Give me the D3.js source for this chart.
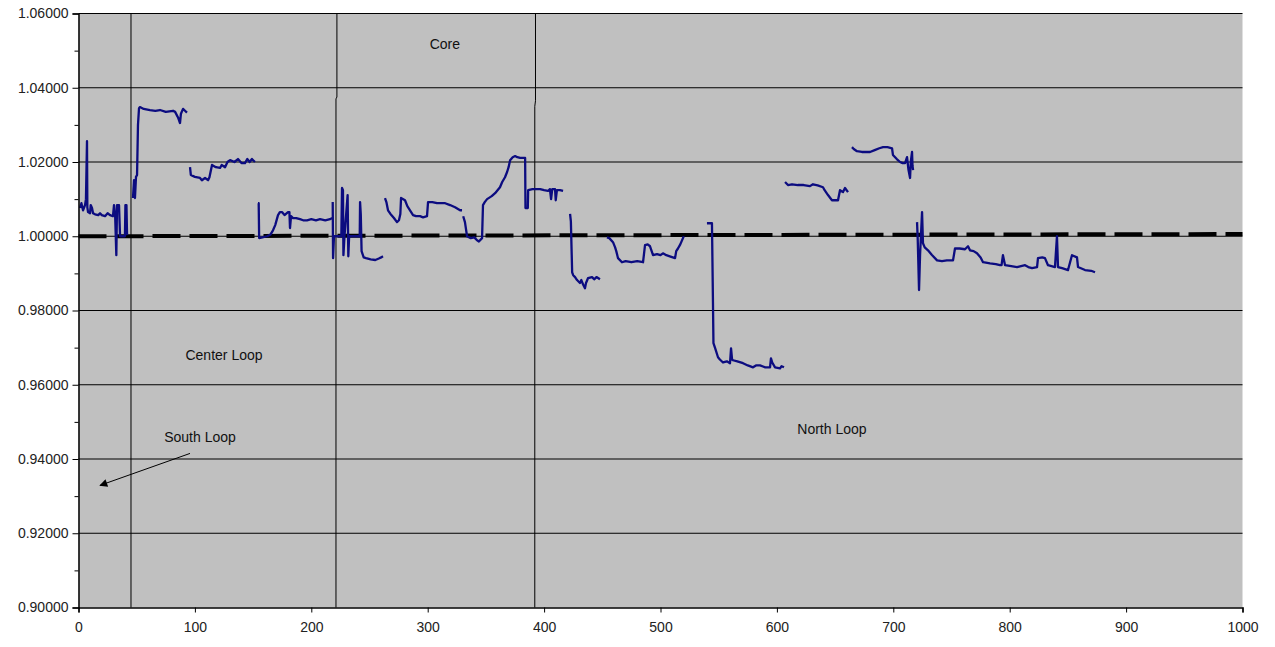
<!DOCTYPE html>
<html>
<head>
<meta charset="utf-8">
<script src="https://cdn.jsdelivr.net/npm/d3@7"></script>
<style>
    body { margin: 0; background: #fff; }
    text { font-family: "Liberation Sans", Arial, sans-serif; }
</style>
</head>
<body>
<svg id="chart"></svg>
<script>
// loop segments, [x, ratio]
const southLoop = [[1.3,1.0076],[2.5,1.0089],[3.9,1.0070],[5.6,1.0084],[6.4,1.0100],[7.3,1.0256],[7.6,1.0078],[8.2,1.0065],[9.9,1.0062],[10.5,1.0084],[11.6,1.0076],[12.5,1.0062],[14.2,1.0059],[17,1.0057],[18.5,1.0062],[20,1.0057],[22.8,1.0054],[25,1.0062],[27.1,1.0057],[29.6,1.0054],[30.5,1.0084],[31.5,1.0054],[32.5,0.9949],[33.1,1.0084],[34.8,1.0084],[35.7,1.0000],[39.9,1.0000],[40.3,1.0084],[41.2,1.0084],[41.7,1.0003]];

const centerA = [[46.8,1.0103],[47.7,1.0151],[48.5,1.0103],[49.4,1.0160],[50.3,1.0165],[51.1,1.0300],[52.0,1.0345],[52.8,1.0348],[56,1.0343],[61.4,1.0340],[66,1.0338],[70,1.0340],[75,1.0335],[81.2,1.0338],[83,1.0335],[85.5,1.0320],[87.2,1.0305],[88,1.0330],[89.8,1.0343],[91.5,1.0338],[93.2,1.0333]];
const centerB = [[95.8,1.0186],[96.5,1.0165],[100,1.0160],[104.4,1.0157],[106,1.0151],[108.7,1.0157],[111.3,1.0151],[112.5,1.0159],[114.7,1.0192],[118,1.0186],[121.6,1.0184],[123,1.0192],[125.9,1.0186],[128,1.0200],[130.2,1.0205],[134,1.0200],[137,1.0208],[140,1.0197],[143,1.0197],[145,1.0208],[147,1.0200],[149,1.0208],[151.6,1.0200]];
const centerC = [[154.2,1.0089],[154.8,1.0089],[155.2,0.9995],[158,0.9997],[162,1.0000],[165,1.0005],[167.1,1.0016],[169,1.0030],[171.4,1.0057],[173,1.0065],[174.8,1.0065],[177,1.0057],[180,1.0065],[181.2,1.0065],[181.7,1.0022],[182.6,1.0054],[184.3,1.0049],[187,1.0049],[190.3,1.0046],[193,1.0043],[196.3,1.0043],[200,1.0046],[204,1.0043],[207.5,1.0046],[212,1.0043],[216.1,1.0046],[217.9,1.0049]];

const coreA = [[218.4,1.0092],[218.7,0.9941],[219.5,1.0000],[225.8,1.0000],[226.4,1.0130],[227.2,1.0124],[227.6,0.9949],[228.5,1.0000],[231.2,1.0111],[231.8,0.9946],[232.5,1.0000],[241.6,1.0000],[241.9,1.0092],[242.5,1.0060],[243.2,0.9960],[245,0.9943],[247,0.9941],[251,0.9938],[255,0.9936],[258,0.9940],[260,0.9943],[261.6,0.9946]];
const coreB = [[263.3,1.0103],[264.5,1.0092],[265.9,1.0070],[268,1.0060],[271,1.0049],[273.6,1.0038],[275.3,1.0043],[276.5,1.0060],[277.1,1.0103],[280.5,1.0097],[282.5,1.0081],[284.8,1.0070],[287.4,1.0057],[290,1.0054],[293.4,1.0054],[296,1.0051],[299.4,1.0054],[300.3,1.0092],[304,1.0092],[308,1.0089],[310.6,1.0089],[315,1.0089],[319.2,1.0084],[323.5,1.0078],[327.8,1.0070],[329.5,1.0070]];
const coreC = [[330.5,1.0054],[332,1.0038],[333.8,1.0000],[337,0.9995],[340,0.9997],[342.4,0.9989],[344,0.9986],[346.7,0.9995],[347.5,1.0084],[349,1.0092],[351,1.0100],[355,1.0108],[357.9,1.0116],[360,1.0124],[362.1,1.0132],[364,1.0146],[366.4,1.0159],[368.2,1.0173],[369.5,1.0186],[370.8,1.0205],[373,1.0213],[375.1,1.0216],[377,1.0213],[379.4,1.0211],[383.7,1.0211],[384,1.0076],[386,1.0076],[386.3,1.0124],[390,1.0127],[396.6,1.0127],[400,1.0124],[403.4,1.0122],[405,1.0127],[406,1.0100],[407,1.0127],[409.4,1.0127],[410,1.0097],[411,1.0124],[413.7,1.0124],[416.3,1.0122]];

const northA = [[422.3,1.0060],[423,1.0040],[424.1,0.9903],[425,0.9895],[426.6,0.9890],[428.3,0.9882],[430.8,0.9874],[432,0.9882],[433.5,0.9870],[435.1,0.9860],[436,0.9874],[437.7,0.9887],[441.2,0.9890],[443,0.9884],[445,0.9890],[448,0.9884]];
const northB = [[454.0,0.9997],[456,0.9995],[459.2,0.9984],[461,0.9970],[462,0.9960],[463.5,0.9941],[466.9,0.9930],[470,0.9933],[475,0.9930],[480,0.9933],[485,0.9930],[486.7,0.9976],[489,0.9978],[491,0.9973],[493.6,0.9949],[497,0.9952],[500,0.9949],[502.1,0.9954],[505,0.9949],[508,0.9946],[512.5,0.9941],[513.5,0.9960],[515,0.9967],[517,0.9978],[519.3,0.9995],[520,1.0000]];
const northC = [[539.9,1.0035],[544.2,1.0035],[544.4,0.9990],[545.1,0.9814],[545.5,0.9712],[547,0.9698],[549.4,0.9674],[551,0.9668],[553.7,0.9660],[557,0.9663],[559.7,0.9658],[560.6,0.9698],[561.5,0.9668],[562.3,0.9666],[566,0.9663],[570.9,0.9658],[575,0.9652],[579.5,0.9647],[582,0.9652],[585.5,0.9652],[590,0.9647],[594.1,0.9647],[594.9,0.9671],[596,0.9660],[598.4,0.9647],[602.7,0.9644],[604,0.9650],[606.1,0.9647]];
const northD = [[607.0,1.0146],[609.5,1.0138],[613,1.0140],[618,1.0138],[623,1.0138],[628.4,1.0135],[631.0,1.0140],[635,1.0137],[639.6,1.0132],[641,1.0124],[643.9,1.0111],[647.3,1.0097],[652.5,1.0097],[654.2,1.0124],[656.8,1.0119],[658.5,1.0130],[661.1,1.0119]];
const northE = [[664.5,1.0240],[666,1.0235],[668.8,1.0229],[673,1.0227],[680.0,1.0227],[684,1.0232],[688,1.0237],[691.2,1.0240],[695,1.0240],[698.9,1.0237],[699.7,1.0219],[703,1.0208],[705.8,1.0200],[708,1.0197],[710.1,1.0197],[711.8,1.0213],[713,1.0180],[714.4,1.0157],[715,1.0200],[716.1,1.0227],[716.5,1.0190],[717,1.0178]];
const northF = [[720.4,1.0038],[721.0,0.9990],[722.1,0.9855],[723,0.9950],[724.7,1.0065],[725.5,0.9981],[727,0.9970],[729.8,0.9962],[733,0.9950],[737.6,0.9935],[741.8,0.9933],[746,0.9935],[751.3,0.9935],[753.0,0.9967],[757,0.9967],[761.6,0.9965],[764.2,0.9973],[765.9,0.9962],[769,0.9960],[771.9,0.9954],[775,0.9943],[777.1,0.9930],[783.1,0.9927],[788,0.9925],[791.7,0.9922],[793,0.9922],[794.2,0.9949],[796.0,0.9922],[800,0.9920],[806.3,0.9917],[813.2,0.9922],[816,0.9917],[819.2,0.9914],[823.5,0.9917],[824.3,0.9941],[828,0.9943],[830.3,0.9941],[832.9,0.9922],[838.9,0.9917],[840.6,1.0000],[841.5,0.9917],[845,0.9914],[850.1,0.9909],[853.5,0.9949],[857.8,0.9943],[858.7,0.9917],[864.7,0.9909],[870,0.9907],[873.3,0.9903]];

const segments = [southLoop, centerA, centerB, centerC, coreA, coreB, coreC,
    northA, northB, northC, northD, northE, northF];

// zone boundaries
const boundaries = [
    [[45.1,1.06],[45.1,0.90]],
    [[222.0,1.06],[222.0,1.0375],[221.2,1.0370],[221.2,0.90]],
    [[392.6,1.06],[392.6,1.0365],[392.0,1.0350],[392.0,0.90]]
];

const reference = [[0,1.0],[1000,1.0006]];

const zoneLabels = [
    {text: "Core", x: 314.7, y: 1.0515},
    {text: "Center Loop", x: 125, y: 0.9677},
    {text: "South Loop", x: 104.4, y: 0.9456},
    {text: "North Loop", x: 647.3, y: 0.9478}
];
const arrowFrom = [95.8, 0.9415];
const arrowTo = [18.5, 0.9329];

const yTicks = [0.90, 0.92, 0.94, 0.96, 0.98, 1.00, 1.02, 1.04, 1.06];
const yMinor = [0.91, 0.93, 0.95, 0.97, 0.99, 1.01, 1.03, 1.05];
const xTicks = [0, 100, 200, 300, 400, 500, 600, 700, 800, 900, 1000];

const W = 1275, H = 647;
const margin = {top: 13.5, right: 32.5, bottom: 39.5, left: 78.5},
    width = W - margin.left - margin.right,
    height = H - margin.top - margin.bottom;

const x = d3.scaleLinear().domain([0, 1000]).range([0, width]);
const y = d3.scaleLinear().domain([0.90, 1.06]).range([height, 0]);

const svg = d3.select('#chart')
    .attr('width', W)
    .attr('height', H);

svg.append('defs').append('marker')
    .attr('id', 'arrow')
    .attr('viewBox', '0 0 10 10')
    .attr('refX', 9).attr('refY', 5)
    .attr('markerWidth', 10).attr('markerHeight', 8)
    .attr('markerUnits', 'userSpaceOnUse')
    .attr('orient', 'auto')
    .append('path')
    .attr('d', 'M0,0 L10,5 L0,10 Z')
    .attr('fill', '#000');

const g = svg.append('g')
    .attr('transform', 'translate(' + margin.left + ',' + margin.top + ')');

g.append('rect')
    .attr('width', width)
    .attr('height', height)
    .attr('fill', '#c0c0c0');

// horizontal gridlines
g.selectAll('.grid').data(yTicks.slice(1))
    .enter().append('line')
    .attr('x1', 0).attr('x2', width)
    .attr('y1', function(d) { return y(d); })
    .attr('y2', function(d) { return y(d); })
    .attr('stroke', '#000')
    .attr('stroke-width', 1);

const line = d3.line()
    .x(function(d) { return x(d[0]); })
    .y(function(d) { return y(d[1]); });

g.selectAll('.zone').data(boundaries)
    .enter().append('path')
    .attr('d', line)
    .attr('fill', 'none')
    .attr('stroke', '#000')
    .attr('stroke-width', 1);

g.append('path')
    .attr('d', line(reference))
    .attr('fill', 'none')
    .attr('stroke', '#000')
    .attr('stroke-width', 4)
    .attr('stroke-dasharray', '28,9');

g.selectAll('.seg').data(segments)
    .enter().append('path')
    .attr('d', line)
    .attr('fill', 'none')
    .attr('stroke', '#0c0c80')
    .attr('stroke-width', 2.3)
    .attr('stroke-linejoin', 'round');

// axes
const yAxis = d3.axisLeft(y)
    .tickValues(yTicks)
    .tickSize(6)
    .tickPadding(4)
    .tickFormat(d3.format('.5f'));
const yAxisG = g.append('g').call(yAxis);

g.append('g').call(d3.axisLeft(y).tickValues(yMinor).tickSize(4).tickFormat(''))
    .select('.domain').remove();

const xAxis = d3.axisBottom(x)
    .tickValues(xTicks)
    .tickSize(5)
    .tickPadding(10)
    .tickFormat(d3.format('d'));
const xAxisG = g.append('g')
    .attr('transform', 'translate(0,' + height + ')')
    .call(xAxis);

[yAxisG, xAxisG].forEach(function(a) {
    a.select('.domain').attr('stroke', '#000').attr('stroke-width', 1.5);
    a.selectAll('text')
        .attr('fill', '#222')
        .style('font-size', '14px')
        .style('font-family', '"Liberation Sans", Arial, sans-serif');
});
g.selectAll('.tick line').attr('stroke', '#000');

// annotations
g.selectAll('.zlabel').data(zoneLabels)
    .enter().append('text')
    .attr('x', function(d) { return x(d.x); })
    .attr('y', function(d) { return y(d.y); })
    .attr('text-anchor', 'middle')
    .attr('dominant-baseline', 'middle')
    .attr('fill', '#111')
    .style('font-size', '14px')
    .text(function(d) { return d.text; });

g.append('line')
    .attr('x1', x(arrowFrom[0])).attr('y1', y(arrowFrom[1]))
    .attr('x2', x(arrowTo[0])).attr('y2', y(arrowTo[1]))
    .attr('stroke', '#000')
    .attr('stroke-width', 1)
    .attr('marker-end', 'url(#arrow)');
</script>
</body>
</html>
